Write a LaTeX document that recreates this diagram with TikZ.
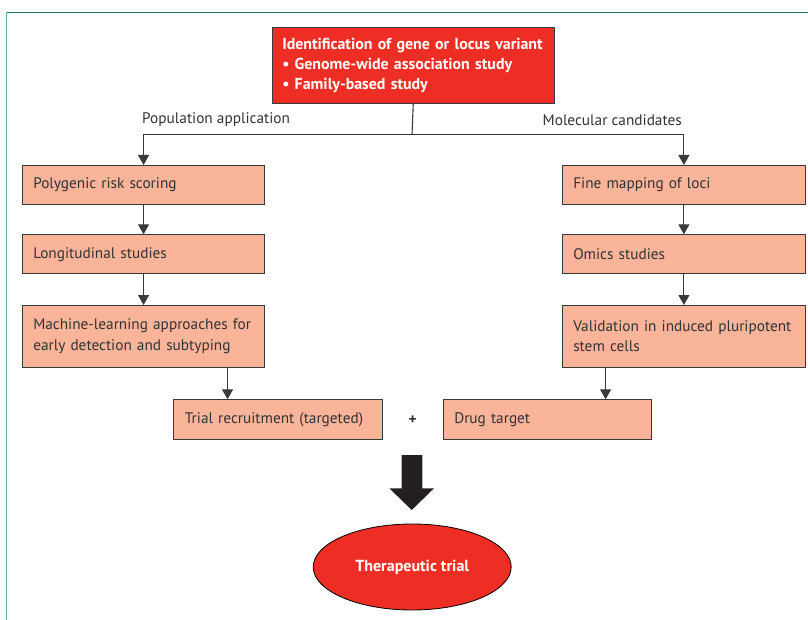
\documentclass[tikz,border=0pt]{standalone}
\usepackage{fontspec}
\setmainfont{PT Sans}
\usetikzlibrary{arrows.meta,shapes.geometric}
\definecolor{lred}{HTML}{EE2E24}
\definecolor{salmon}{HTML}{F9B49A}
\definecolor{edge}{HTML}{3A3A3A}
\definecolor{txt}{HTML}{333333}
\definecolor{frametop}{HTML}{1B7F4C}
\definecolor{frameleft}{HTML}{5DB48A}
\definecolor{bigarrow}{HTML}{231F20}
\tikzset{
  salbox/.style={draw=edge, line width=1.1pt, fill=salmon, anchor=north west,
    inner sep=0pt, inner xsep=11pt, align=left, text=txt, font=\fontsize{15.3}{20.5}\selectfont},
  redbox/.style={draw=edge, line width=1.1pt, fill=lred, anchor=north west,
    inner sep=0pt, inner xsep=10pt, align=left, text=white, font=\bfseries\fontsize{15.9}{20}\selectfont},
  lbl/.style={text=txt, font=\fontsize{15.3}{17}\selectfont, inner sep=0pt},
  arr/.style={draw=edge, line width=1.1pt, -{Triangle[width=11pt,length=10pt]}},
  conn/.style={draw=edge, line width=1.1pt}
}
\begin{document}
\begin{tikzpicture}[x=1pt,y=-1pt]
\useasboundingbox (0,0) rectangle (808,620);
% frame
\draw[frameleft, line width=1.5pt] (6.7,12.3) -- (6.7,620);
\draw[frametop, line width=1.5pt] (6.7,12.3) -- (808,12.3);
% top box
\node[redbox, text width=262pt, minimum height=76pt] (top) at (271.7,27)
  {Identification of gene or locus variant\\ \textbullet\ Genome-wide association study\\ \textbullet\ Family-based study};
% labels
\node[lbl, anchor=west] (lpop) at (142,120) {Population application};
\node[lbl, anchor=east] (lmol) at (682,120) {Molecular candidates};
% left column
\node[salbox, text width=220.6pt, minimum height=39pt] (l1) at (21.7,165) {Polygenic risk scoring};
\node[salbox, text width=220.6pt, minimum height=39pt] (l2) at (21.7,234.3) {Longitudinal studies};
\node[salbox, text width=220.6pt, minimum height=61.7pt] (l3) at (21.7,305) {Machine-learning approaches for\\early detection and subtyping};
% right column
\node[salbox, text width=221.3pt, minimum height=39pt] (r1) at (561.7,165) {Fine mapping of loci};
\node[salbox, text width=221.3pt, minimum height=39pt] (r2) at (561.7,234.3) {Omics studies};
\node[salbox, text width=221.3pt, minimum height=61.7pt] (r3) at (561.7,305) {Validation in induced pluripotent\\stem cells};
% bottom row
\node[salbox, text width=187pt, minimum height=39.4pt] (trial) at (173.3,399.3) {Trial recruitment (targeted)};
\node[salbox, text width=186.3pt, minimum height=39.4pt] (drug) at (442.7,399.3) {Drug target};
\node[text=txt, font=\bfseries\fontsize{15.3}{17}\selectfont, inner sep=0pt] (plus) at (412.7,420) {+};
% ellipse
\node[ellipse, draw=black, line width=0.8pt, fill=lred, minimum width=198pt, minimum height=86pt,
  text=white, font=\bfseries\fontsize{16}{17}\selectfont] (ther) at (412.2,567) {Therapeutic trial};
% connectors
\coordinate (split) at (412,134.3);
\draw[conn] (top.south) -- (split);
\draw[arr] (split) -| (l1.north);
\draw[arr] (split) -| (r1.north);
\draw[arr] (l1) -- (l2);
\draw[arr] (l2) -- (l3);
\draw[arr] (r1) -- (r2);
\draw[arr] (r2) -- (r3);
\draw[arr] ([xshift=84pt]l3.south) -- ([xshift=84pt]l3.south |- trial.north);
\draw[arr] ([xshift=-78.3pt]r3.south) -- ([xshift=-78.3pt]r3.south |- drug.north);
% big arrow
\fill[bigarrow] (401.7,455) -- (422.3,455) -- (422.3,488.3) -- (434,488.3) -- (411.7,510) -- (389.3,488.3) -- (401.7,488.3) -- cycle;
\end{tikzpicture}
\end{document}
